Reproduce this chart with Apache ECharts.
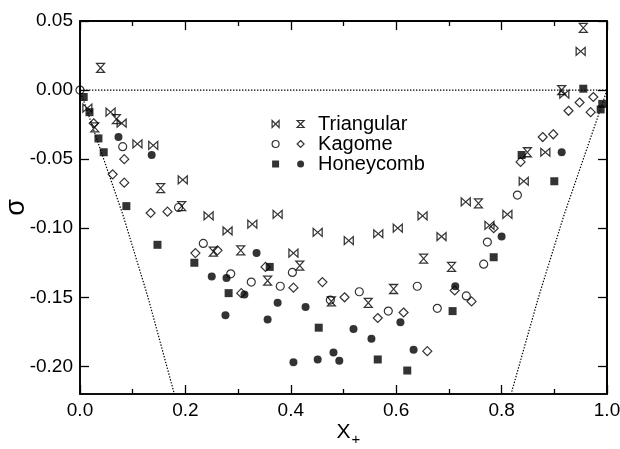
<!DOCTYPE html>
<html>
<head>
<meta charset="utf-8">
<script src="https://cdn.jsdelivr.net/npm/echarts@6/dist/echarts.min.js"></script>
<style>html,body{margin:0;padding:0;background:#fff}#c{width:620px;height:449px}</style>
</head>
<body>
<div id="c"></div>
<script>
// Tick labels
const xTicks = [0.0, 0.2, 0.4, 0.6, 0.8, 1.0];
const yTicks = [-0.20, -0.15, -0.10, -0.05, 0.00, 0.05];
const yRange = [-0.22, 0.05];

// Triangular (bowtie markers)
const triangularA = [[0.014,-0.013],[0.058,-0.016],[0.079,-0.024],[0.109,-0.039],[0.139,-0.040],[0.195,-0.065],[0.244,-0.091],[0.280,-0.102],[0.327,-0.097],[0.375,-0.090],[0.405,-0.118],[0.451,-0.103],[0.510,-0.109],[0.566,-0.104],[0.603,-0.100],[0.650,-0.091],[0.686,-0.106],[0.732,-0.081],[0.777,-0.098],[0.811,-0.090],[0.842,-0.066],[0.883,-0.045],[0.919,-0.003],[0.950,0.028]];
// Triangular (hourglass markers)
const triangularB = [[0.039,0.016],[0.069,-0.021],[0.028,-0.027],[0.153,-0.071],[0.193,-0.084],[0.253,-0.117],[0.305,-0.116],[0.356,-0.138],[0.417,-0.127],[0.477,-0.153],[0.547,-0.154],[0.595,-0.144],[0.652,-0.122],[0.705,-0.128],[0.756,-0.082],[0.849,-0.045],[0.914,0.000],[0.955,0.045]];
// Kagome (open circles)
const kagomeA = [[0.0,0.0],[0.081,-0.041],[0.187,-0.085],[0.234,-0.111],[0.286,-0.133],[0.325,-0.139],[0.380,-0.142],[0.403,-0.132],[0.475,-0.152],[0.530,-0.146],[0.585,-0.160],[0.640,-0.142],[0.678,-0.158],[0.733,-0.149],[0.766,-0.126],[0.773,-0.110],[0.830,-0.076]];
// Kagome (open diamonds)
const kagomeB = [[0.026,-0.024],[0.062,-0.061],[0.084,-0.050],[0.084,-0.067],[0.134,-0.089],[0.166,-0.088],[0.219,-0.118],[0.261,-0.116],[0.306,-0.147],[0.352,-0.128],[0.405,-0.143],[0.460,-0.139],[0.502,-0.150],[0.565,-0.165],[0.614,-0.161],[0.659,-0.189],[0.711,-0.145],[0.743,-0.153],[0.785,-0.100],[0.836,-0.052],[0.878,-0.034],[0.898,-0.032],[0.927,-0.015],[0.948,-0.009],[0.969,-0.016],[0.974,-0.005]];
// Honeycomb (filled squares)
const honeycombA = [[0.007,-0.005],[0.018,-0.016],[0.035,-0.035],[0.045,-0.045],[0.088,-0.084],[0.147,-0.112],[0.217,-0.125],[0.282,-0.147],[0.360,-0.128],[0.453,-0.172],[0.565,-0.195],[0.621,-0.203],[0.707,-0.160],[0.785,-0.121],[0.838,-0.047],[0.900,-0.066],[0.955,0.001],[0.991,-0.010],[0.988,-0.014]];
// Honeycomb (filled circles)
const honeycombB = [[0.073,-0.034],[0.136,-0.047],[0.250,-0.135],[0.278,-0.136],[0.312,-0.148],[0.276,-0.163],[0.335,-0.118],[0.356,-0.166],[0.375,-0.154],[0.405,-0.197],[0.428,-0.157],[0.451,-0.195],[0.481,-0.190],[0.492,-0.196],[0.519,-0.173],[0.553,-0.180],[0.608,-0.168],[0.633,-0.188],[0.712,-0.142],[0.800,-0.106],[0.914,-0.045]];
// Dotted guide curves
const zeroLine = [[0.0,0.0],[1.0,0.0]];
const leftCurve = [[0.0,0.0],[0.045,-0.050],[0.082,-0.091],[0.129,-0.150],[0.179,-0.220]];
const rightCurve = [[1.0,0.0],[0.955,-0.050],[0.918,-0.091],[0.870,-0.150],[0.818,-0.220]];

const FONT = 'Liberation Sans';
const bowtie = 'path://M0,0L0,10L10,0L10,10Z';
const hourglass = 'path://M0,0L10,0L0,10L10,10Z';
function openStyle() { return {color: 'rgba(255,255,255,0)', borderColor: '#000', borderWidth: 1.2}; }
function fillStyle() { return {color: '#000', borderColor: '#000', borderWidth: 0}; }

function scatter(name, data, symbol, size, style) {
  return {type: 'scatter', name: name, data: data, symbol: symbol, symbolSize: size, itemStyle: style};
}
function dotted(data, extra) {
  return Object.assign({type: 'line', data: data, showSymbol: false,
    lineStyle: {type: [1.4, 1.6], color: '#000', width: 1.2}}, extra || {});
}
function line() { return {show: true, onZero: false, lineStyle: {color: '#000', width: 1.6}}; }
function tick() { return {show: true, inside: true, length: 9, lineStyle: {color: '#000', width: 1.3}}; }
function minor() { return {show: true, splitNumber: 2, length: 5, lineStyle: {color: '#000', width: 1.3}}; }

// Frame edges (top and right) as solid reference lines through the axes' own scales
const frameMark = {
  silent: true, symbol: 'none', label: {show: false},
  lineStyle: {type: 'solid', color: '#000', width: 1.6},
  data: [{yAxis: yRange[1]}, {xAxis: xTicks[xTicks.length - 1]}]
};

const option = {
  animation: false,
  grid: {left: 80, right: 13, top: 21, bottom: 55, outerBoundsMode: 'none',
    show: true, borderColor: '#000', borderWidth: 1.6, backgroundColor: 'transparent'},
  xAxis: [
    {
      type: 'value', position: 'bottom', min: xTicks[0], max: xTicks[xTicks.length - 1], interval: 0.2,
      axisLine: line(), axisTick: tick(), minorTick: minor(), splitLine: {show: false},
      axisLabel: {show: true, margin: 7, fontFamily: FONT, fontSize: 19, color: '#000',
        formatter: v => v.toFixed(1)},
      name: '{x|X}{s|+}', nameLocation: 'middle', nameGap: 28, nameMoveOverlap: false,
      nameTextStyle: {padding: [0, 0, 0, 10], rich: {
        x: {fontFamily: FONT, fontSize: 21, color: '#000', lineHeight: 22, verticalAlign: 'top'},
        s: {fontFamily: FONT, fontSize: 15, color: '#000', lineHeight: 15, verticalAlign: 'top', padding: [10, 0, 0, 1]}
      }}
    },
    {
      type: 'value', position: 'top', min: xTicks[0], max: xTicks[xTicks.length - 1], interval: 0.2,
      axisLine: line(), axisTick: tick(), minorTick: minor(), splitLine: {show: false},
      axisLabel: {show: false}
    }
  ],
  yAxis: [
    {
      type: 'value', position: 'left', min: yRange[0], max: yRange[1],
      axisLine: line(), axisTick: Object.assign(tick(), {customValues: yTicks}), splitLine: {show: false},
      axisLabel: {show: true, margin: 7, fontFamily: FONT, fontSize: 19, color: '#000',
        customValues: yTicks, formatter: v => v.toFixed(2)},
      name: 'σ', nameLocation: 'middle', nameGap: 50, nameMoveOverlap: false,
      nameTextStyle: {fontFamily: FONT, fontSize: 27, color: '#000'}
    },
    {
      type: 'value', position: 'right', min: yRange[0], max: yRange[1],
      axisLine: line(), axisTick: Object.assign(tick(), {customValues: yTicks}), splitLine: {show: false},
      axisLabel: {show: false, customValues: yTicks}
    }
  ],
  legend: [
    {
      orient: 'vertical', left: 271.5, top: 114, padding: 0, itemGap: 0,
      itemWidth: 7, itemHeight: 7, selectedMode: false,
      formatter: () => ' ',
      textStyle: {fontFamily: FONT, fontSize: 20, lineHeight: 19.7, color: '#000'},
      data: [
        {name: 'TriangularA', icon: bowtie, itemStyle: openStyle()},
        {name: 'KagomeA', icon: 'circle', itemStyle: openStyle()},
        {name: 'HoneycombA', icon: 'rect', itemStyle: fillStyle()}
      ]
    },
    {
      orient: 'vertical', left: 296.5, top: 114, padding: 0, itemGap: 0,
      itemWidth: 7, itemHeight: 7, selectedMode: false,
      textStyle: {fontFamily: FONT, fontSize: 20, lineHeight: 19.7, color: '#000', padding: [0, 0, 0, 9]},
      data: [
        {name: 'Triangular', icon: hourglass, itemStyle: openStyle()},
        {name: 'Kagome', icon: 'diamond', itemStyle: openStyle()},
        {name: 'Honeycomb', icon: 'circle', itemStyle: fillStyle()}
      ]
    }
  ],
  series: [
    dotted(zeroLine, {markLine: frameMark}), dotted(leftCurve), dotted(rightCurve),
    scatter('TriangularA', triangularA, bowtie, [9, 8], openStyle()),
    scatter('Triangular', triangularB, hourglass, [8, 9], openStyle()),
    scatter('KagomeA', kagomeA, 'circle', 8, openStyle()),
    scatter('Kagome', kagomeB, 'diamond', 9, openStyle()),
    scatter('HoneycombA', honeycombA, 'rect', 8, fillStyle()),
    scatter('Honeycomb', honeycombB, 'circle', 8, fillStyle())
  ]
};

const chart = echarts.init(document.getElementById('c'));
chart.setOption(option);
chart.resize();
</script>
</body>
</html>
